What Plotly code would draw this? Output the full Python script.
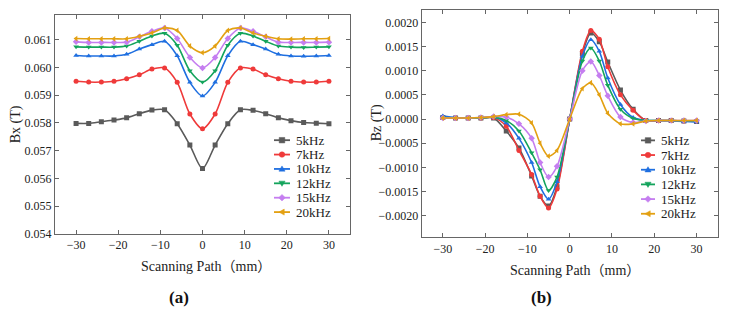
import plotly.graph_objects as go

# ---------------- data ----------------
labels = ["5kHz", "7kHz", "10kHz", "12kHz", "15kHz", "20kHz"]
colors = ["#5a5a5a", "#ef3a3a", "#1f6fe0", "#14a45c", "#c57ef0", "#e3a012"]
symbols = ["square", "circle", "triangle-up", "triangle-down", "diamond", "triangle-left"]

# (a) Bx
xa = [-30, -27, -24, -21, -18, -15, -12, -9, -6, -3, 0, 3, 6, 9, 12, 15, 18, 21, 24, 27, 30]
bx_5 = [0.05798, 0.05798, 0.05804, 0.05810, 0.05818, 0.05833, 0.05846, 0.05847, 0.05797, 0.05720, 0.05635,
        0.05720, 0.05797, 0.05847, 0.05845, 0.05833, 0.05818, 0.05808, 0.05801, 0.05799, 0.05797]
bx_7 = [0.05950, 0.05947, 0.05947, 0.05950, 0.05959, 0.05973, 0.05994, 0.05998, 0.05946, 0.05832, 0.05779,
        0.05832, 0.05946, 0.05998, 0.05994, 0.05973, 0.05959, 0.05950, 0.05947, 0.05947, 0.05950]
bx_10 = [0.06043, 0.06041, 0.06041, 0.06041, 0.06047, 0.06066, 0.06082, 0.06094, 0.06042, 0.05946, 0.05897,
         0.05946, 0.06042, 0.06094, 0.06082, 0.06066, 0.06047, 0.06041, 0.06040, 0.06041, 0.06043]
bx_12 = [0.06074, 0.06073, 0.06073, 0.06073, 0.06077, 0.06094, 0.06113, 0.06123, 0.06080, 0.05988, 0.05947,
         0.05988, 0.06080, 0.06123, 0.06113, 0.06094, 0.06077, 0.06073, 0.06072, 0.06073, 0.06074]
bx_15 = [0.06092, 0.06090, 0.06090, 0.06090, 0.06091, 0.06110, 0.06130, 0.06142, 0.06104, 0.06036, 0.05998,
         0.06036, 0.06104, 0.06142, 0.06130, 0.06110, 0.06091, 0.06090, 0.06090, 0.06090, 0.06091]
bx_20 = [0.06104, 0.06103, 0.06103, 0.06103, 0.06103, 0.06112, 0.06124, 0.06142, 0.06133, 0.06077, 0.06053,
         0.06077, 0.06133, 0.06142, 0.06124, 0.06112, 0.06103, 0.06102, 0.06103, 0.06103, 0.06104]

# (b) Bz
xb = [-30, -27, -24, -21, -18, -15, -12, -9, -7, -5, -3, 0, 3, 5, 7, 9, 12, 15, 18, 21, 24, 27, 30]
bz_5 = [0.00003, 0.00002, 0.00002, 0.00002, 0.00002, -0.00025, -0.00060, -0.00118, -0.00160, -0.00180, -0.00140, 0.0,
        0.00135, 0.00178, 0.00160, 0.00118, 0.00060, 0.00020, -0.00003, -0.00003, -0.00003, -0.00004, -0.00005]
bz_7 = [0.00003, 0.00002, 0.00002, 0.00002, 0.00003, -0.00015, -0.00065, -0.00115, -0.00160, -0.00184, -0.00145, 0.0,
        0.00140, 0.00183, 0.00165, 0.00108, 0.00050, 0.00018, -0.00003, -0.00003, -0.00003, -0.00004, -0.00004]
bz_10 = [0.00006, 0.00003, 0.00002, 0.00002, 0.00004, -0.00008, -0.00040, -0.00090, -0.00140, -0.00166, -0.00130, 0.0,
         0.00130, 0.00164, 0.00140, 0.00085, 0.00030, 0.00003, -0.00003, -0.00003, -0.00004, -0.00005, -0.00006]
bz_12 = [0.00003, 0.00002, 0.00002, 0.00002, 0.00004, -0.00003, -0.00025, -0.00070, -0.00105, -0.00148, -0.00120, 0.0,
         0.00120, 0.00147, 0.00120, 0.00070, 0.00020, 0.00001, -0.00003, -0.00003, -0.00003, -0.00004, -0.00004]
bz_15 = [0.00002, 0.00002, 0.00002, 0.00003, 0.00005, 0.00004, -0.00010, -0.00040, -0.00090, -0.00120, -0.00098, 0.0,
         0.00100, 0.00119, 0.00090, 0.00048, 0.00004, -0.00007, -0.00004, -0.00003, -0.00003, -0.00003, -0.00003]
bz_20 = [0.00002, 0.00002, 0.00002, 0.00003, 0.00005, 0.00009, 0.00010, -0.00008, -0.00050, -0.00077, -0.00065, 0.0,
         0.00063, 0.00075, 0.00050, 0.00012, -0.00010, -0.00010, -0.00004, -0.00003, -0.00003, -0.00003, -0.00003]

bx_series = [bx_5, bx_7, bx_10, bx_12, bx_15, bx_20]
bz_series = [bz_5, bz_7, bz_10, bz_12, bz_15, bz_20]

# ---------------- figure ----------------
W, H = 731, 322
FONT = "Times New Roman, Liberation Serif, Tinos, DejaVu Serif, serif"
FONT_CJK = "Times New Roman, Liberation Serif, DejaVu Serif, Noto Sans CJK SC, serif"
AXC = "#666666"

fig = go.Figure()

for i in range(6):
    fig.add_trace(go.Scatter(
        x=xa, y=bx_series[i], name=labels[i], mode="lines+markers", showlegend=False,
        line=dict(color=colors[i], width=1.6, shape="spline", smoothing=0.8),
        marker=dict(symbol=symbols[i], size=5, color=colors[i]),
        xaxis="x", yaxis="y"))
for i in range(6):
    fig.add_trace(go.Scatter(
        x=xb, y=bz_series[i], name=labels[i], mode="lines+markers", showlegend=False,
        line=dict(color=colors[i], width=1.6, shape="spline", smoothing=0.8),
        marker=dict(symbol=symbols[i], size=5, color=colors[i]),
        xaxis="x2", yaxis="y2"))

def px_x(p):
    return p / W

def px_y(p):
    return 1 - p / H

axis_common = dict(showgrid=False, zeroline=False, showline=True, linecolor=AXC, linewidth=1.2,
                   mirror="allticks", ticks="inside", ticklen=4, tickcolor=AXC, tickwidth=1,
                   tickfont=dict(family=FONT, size=12, color="#222222"))

fig.update_layout(
    width=W, height=H, margin=dict(l=0, r=0, t=0, b=0),
    paper_bgcolor="white", plot_bgcolor="white",
    font=dict(family=FONT, size=12, color="#222222"),
    showlegend=False,
    xaxis=dict(domain=[px_x(55), px_x(350)], range=[-35, 35], tickvals=[-30, -20, -10, 0, 10, 20, 30],
               anchor="y", **axis_common),
    yaxis=dict(domain=[px_y(239), px_y(15)], range=[0.054, 0.0619], dtick=0.001, tick0=0.054,
               tickformat=".3f", anchor="x", **axis_common),
    xaxis2=dict(domain=[px_x(421.7), px_x(717.7)], range=[-35, 35], tickvals=[-30, -20, -10, 0, 10, 20, 30],
                anchor="y2", **axis_common),
    yaxis2=dict(domain=[px_y(242.7), px_y(10)], range=[-0.00245, 0.00226], dtick=0.0005, tick0=0,
                tickformat=".4f", anchor="x2", **axis_common),
)

# ---------------- compact legends (drawn as shapes + text) ----------------
def symbol_shape(sym, cx, cy, color, r=2.8):
    if sym == "circle":
        return dict(type="circle", xref="paper", yref="paper",
                    x0=px_x(cx - r), x1=px_x(cx + r), y0=px_y(cy + r), y1=px_y(cy - r),
                    fillcolor=color, line=dict(color=color, width=0.5))
    pts = {
        "square": [(-r, -r), (r, -r), (r, r), (-r, r)],
        "triangle-up": [(0, -r * 1.1), (r * 1.1, r * 0.8), (-r * 1.1, r * 0.8)],
        "triangle-down": [(0, r * 1.1), (r * 1.1, -r * 0.8), (-r * 1.1, -r * 0.8)],
        "diamond": [(0, -r * 1.2), (r * 1.2, 0), (0, r * 1.2), (-r * 1.2, 0)],
        "triangle-left": [(-r * 1.1, 0), (r * 0.8, -r * 1.1), (r * 0.8, r * 1.1)],
    }[sym]
    path = "M " + " L ".join(f"{px_x(cx + dx):.5f},{px_y(cy + dy):.5f}" for dx, dy in pts) + " Z"
    return dict(type="path", xref="paper", yref="paper", path=path,
                fillcolor=color, line=dict(color=color, width=0.5))

def add_legend(x_line0, x_line1, x_text, y_first, y_step):
    for i in range(6):
        yy = y_first + i * y_step
        fig.add_shape(type="line", xref="paper", yref="paper",
                      x0=px_x(x_line0), x1=px_x(x_line1), y0=px_y(yy), y1=px_y(yy),
                      line=dict(color=colors[i], width=1.8))
        fig.add_shape(symbol_shape(symbols[i], (x_line0 + x_line1) / 2, yy, colors[i]))
        fig.add_annotation(text=labels[i], x=px_x(x_text), y=px_y(yy), xref="paper", yref="paper",
                           xanchor="left", yanchor="middle", showarrow=False,
                           font=dict(family=FONT, size=13, color="#222222"))

add_legend(274, 290, 294, 143.3, 14.7)
add_legend(641, 655, 659, 143.5, 15.0)

ann = [
    dict(text="Scanning Path（mm）", x=px_x(206), y=px_y(272), xanchor="center", yanchor="middle",
         font=dict(size=14, family=FONT_CJK)),
    dict(text="Scanning Path（mm）", x=px_x(575), y=px_y(277), xanchor="center", yanchor="middle",
         font=dict(size=14, family=FONT_CJK)),
    dict(text="Bx (T)", x=px_x(16), y=px_y(127), textangle=-90, xanchor="center", yanchor="middle",
         font=dict(size=14)),
    dict(text="Bz (T)", x=px_x(377), y=px_y(126), textangle=-90, xanchor="center", yanchor="middle",
         font=dict(size=14)),
    dict(text="<b>(a)</b>", x=px_x(179), y=px_y(304), xanchor="center", yanchor="middle",
         font=dict(size=17, color="#111111")),
    dict(text="<b>(b)</b>", x=px_x(541), y=px_y(304), xanchor="center", yanchor="middle",
         font=dict(size=17, color="#111111")),
]
for a in ann:
    a.update(xref="paper", yref="paper", showarrow=False)
    fig.add_annotation(**a)

fig.write_html("out.html")
